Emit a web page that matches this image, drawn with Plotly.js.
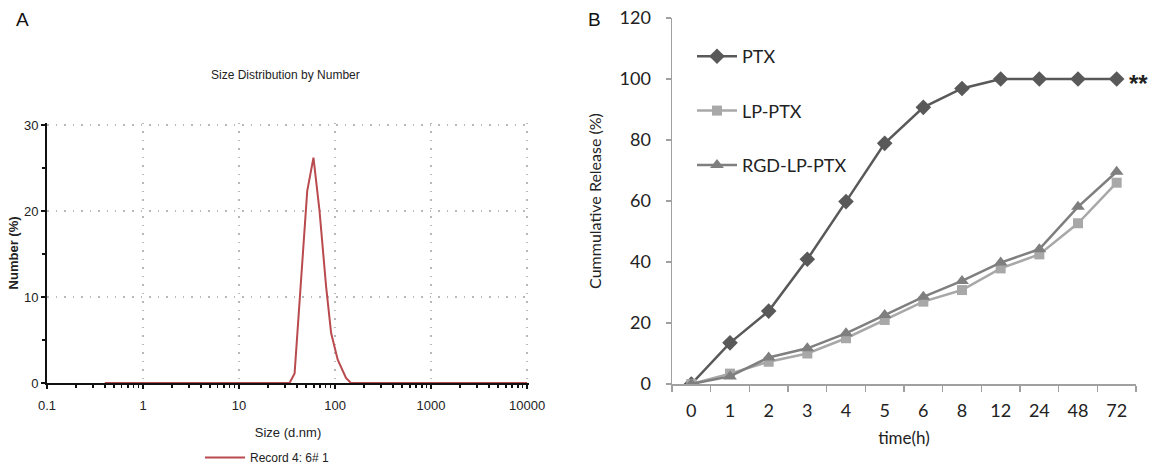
<!DOCTYPE html>
<html><head><meta charset="utf-8">
<script src="https://cdn.plot.ly/plotly-3.0.1.min.js"></script>
<style>html,body{margin:0;padding:0;background:#fff}#chart{width:1154px;height:467px}</style>
</head><body><div id="chart"></div>
<script>
// Panel A: size distribution by number
const sizeNm    = [0.4, 30, 33.6, 37.9, 44.5, 51.3, 59.6, 68.8, 80.7, 91, 106.6, 130, 146.5, 10000];
const numberPct = [0,   0,  0,    1.1,  12.4, 22.3, 26.2, 20.1, 11.2, 5.8, 2.7,  0.6, 0,     0];
const sizeTickVals = [0.1, 1, 10, 100, 1000, 10000];
const sizeTickText = ['0.1', '1', '10', '100', '1000', '10000'];
const recordName = 'Record 4: 6# 1';

// Panel B: cumulative release
const timeLabels = ['0', '1', '2', '3', '4', '5', '6', '8', '12', '24', '48', '72'];
const ptx    = [0, 13.5, 23.9, 40.9, 59.8, 78.9, 90.7, 96.9, 100, 100, 100, 100];
const lpPtx  = [0, 3.4, 7.3, 10.0, 15.0, 21.0, 27.0, 30.8, 37.9, 42.5, 52.7, 66.0];
const rgdPtx = [0, 2.5, 8.7, 11.7, 16.6, 22.6, 28.6, 33.8, 39.8, 44.2, 58.1, 69.6];

const FA = '"Liberation Sans", Arial, sans-serif';
const FB = 'Lato, "Open Sans", sans-serif';
const W = 1154, H = 467;

// minor tick positions for log axis (2..9 of each decade)
const minorVals = [];
for (let d = -1; d < 4; d++) for (let k = 2; k <= 9; k++) minorVals.push(k * Math.pow(10, d));

const traces = [
  {x: sizeNm, y: numberPct, xaxis: 'x', yaxis: 'y', mode: 'lines', name: recordName,
   line: {color: '#b94a4e', width: 2}, legend: 'legend2', hoverinfo: 'skip'},
  {x: timeLabels, y: ptx, xaxis: 'x2', yaxis: 'y2', mode: 'lines+markers', name: 'PTX',
   line: {color: '#595959', width: 2.5}, marker: {symbol: 'diamond', size: 12, color: '#595959'},
   legendgroup: 'a'},
  {x: timeLabels, y: lpPtx, xaxis: 'x2', yaxis: 'y2', mode: 'lines+markers', name: 'LP-PTX',
   line: {color: '#a8a8a8', width: 2.5}, marker: {symbol: 'square', size: 10, color: '#a8a8a8'},
   legendgroup: 'b'},
  {x: timeLabels, y: rgdPtx, xaxis: 'x2', yaxis: 'y2', mode: 'lines+markers', name: 'RGD-LP-PTX',
   line: {color: '#7f7f7f', width: 2.5}, marker: {symbol: 'triangle-up', size: 12, color: '#7f7f7f'},
   legendgroup: 'c'}
];

const gridA = {showgrid: true, gridcolor: '#b8b8b8', griddash: '1.5px,7px', gridwidth: 1.5};

const layout = {
  width: W, height: H, margin: {l: 0, r: 0, t: 0, b: 0, autoexpand: false},
  paper_bgcolor: '#fff', plot_bgcolor: 'rgba(0,0,0,0)',
  showlegend: true,
  xaxis: Object.assign({
    type: 'log', domain: [47 / W, 529 / W], range: [-1, 4.02], anchor: 'y',
    tickmode: 'array', tickvals: sizeTickVals, ticktext: sizeTickText,
    showline: true, linecolor: '#111', linewidth: 2, zeroline: false,
    ticks: 'outside', ticklen: 4, tickcolor: '#111', tickwidth: 1.5,
    minor: {tickmode: 'array', tickvals: minorVals, ticks: 'outside', ticklen: 3, tickcolor: '#111', showgrid: false},
    tickfont: {family: FA, size: 13, color: '#222'}, ticklabelstandoff: 5,
    title: {text: 'Size (d.nm)', font: {family: FA, size: 13, color: '#222'}, standoff: 16}
  }, gridA),
  yaxis: Object.assign({
    domain: [(H - 383) / H, (H - 122.8) / H], range: [0, 30.25], anchor: 'x',
    tickmode: 'array', tickvals: [0, 10, 20, 30],
    showline: true, linecolor: '#111', linewidth: 2, zeroline: false,
    ticks: 'outside', ticklen: 4, tickcolor: '#111', tickwidth: 1.5,
    minor: {tickmode: 'array', tickvals: [5, 15, 25], ticks: 'outside', ticklen: 3, tickcolor: '#111', showgrid: false},
    tickfont: {family: FA, size: 13, color: '#222'},
    title: {text: '<b>Number (%)</b>', font: {family: FA, size: 13, color: '#222'}, standoff: 2}
  }, gridA),
  xaxis2: {
    type: 'category', categoryorder: 'array', categoryarray: timeLabels,
    domain: [672 / W, 1136 / W], range: [-0.5, 11.5], anchor: 'y2',
    showgrid: false, zeroline: false,
    showline: true, linecolor: '#a0a0a0', linewidth: 1.5,
    ticks: 'outside', tickson: 'boundaries', ticklen: 6, tickcolor: '#a0a0a0', tickwidth: 1.5,
    tickfont: {family: FB, size: 18, color: '#222'}, ticklabelstandoff: 10,
    title: {text: 'time(h)', font: {family: FB, size: 17, color: '#222'}, standoff: 12}
  },
  yaxis2: {
    domain: [(H - 384) / H, (H - 18) / H], range: [0, 120], anchor: 'x2',
    tickmode: 'array', tickvals: [0, 20, 40, 60, 80, 100, 120],
    showgrid: false, zeroline: false,
    showline: true, linecolor: '#a0a0a0', linewidth: 1.5,
    ticks: 'outside', ticklen: 5, tickcolor: '#a0a0a0', tickwidth: 1.5,
    tickfont: {family: FB, size: 18, color: '#222'}, ticklabelstandoff: 11,
    title: {text: 'Cummulative Release (%)', font: {family: FB, size: 16, color: '#222'}, standoff: 14}
  },
  legend: {
    x: 692 / W, y: 1 - 38 / H, xanchor: 'left', yanchor: 'top',
    bgcolor: 'rgba(0,0,0,0)', font: {family: FB, size: 18, color: '#222'},
    traceorder: 'grouped', tracegroupgap: 28, itemwidth: 40
  },
  legend2: {
    x: 200 / W, y: -5 / H, xanchor: 'left', yanchor: 'bottom',
    bgcolor: 'rgba(0,0,0,0)', font: {family: FA, size: 12, color: '#222'}, itemwidth: 40
  },
  annotations: [
    {text: 'A', x: 22 / W, y: 1 - 20 / H, xref: 'paper', yref: 'paper', xanchor: 'center', yanchor: 'middle', showarrow: false,
     font: {family: FA, size: 19, color: '#111'}},
    {text: 'B', x: 594 / W, y: 1 - 20 / H, xref: 'paper', yref: 'paper', xanchor: 'center', yanchor: 'middle', showarrow: false,
     font: {family: FA, size: 19, color: '#111'}},
    {text: 'Size Distribution by Number', x: 285 / W, y: 1 - 75 / H, xref: 'paper', yref: 'paper', xanchor: 'center', yanchor: 'middle', showarrow: false,
     font: {family: FA, size: 12, color: '#222'}},
    {text: '<b>**</b>', x: timeLabels.length - 1, y: ptx[ptx.length - 1], xref: 'x2', yref: 'y2', xanchor: 'center', yanchor: 'middle', xshift: 22, yshift: -5, showarrow: false,
     font: {family: FA, size: 24, color: '#222'}}
  ]
};

Plotly.newPlot('chart', traces, layout, {staticPlot: true, displayModeBar: false});
</script>
</body></html>
